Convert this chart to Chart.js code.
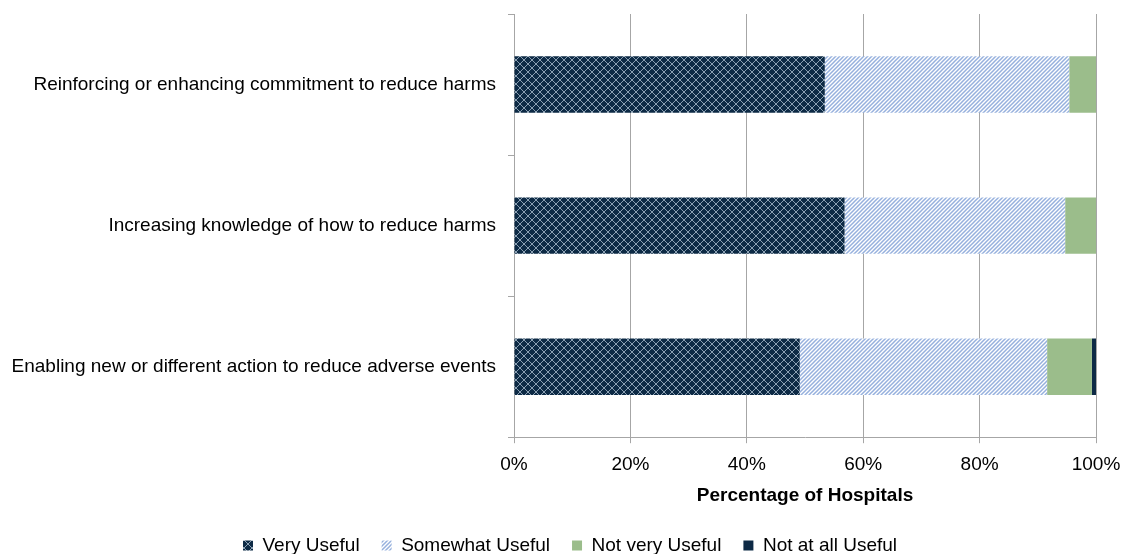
<!DOCTYPE html>
<html>
<head>
<meta charset="utf-8">
<script src="https://cdn.jsdelivr.net/npm/chart.js@4/dist/chart.umd.min.js"></script>
<style>
  html, body { margin: 0; padding: 0; background: #fff; }
  #wrap { width: 1125px; height: 554px; }
</style>
</head>
<body>
<div id="wrap"><canvas id="chart"></canvas></div>
<script>
const categories = [
  "Reinforcing or enhancing commitment to reduce harms",
  "Increasing knowledge of how to reduce harms",
  "Enabling new or different action to reduce adverse events"
];
const veryUseful = [53.4, 56.8, 49.1];
const somewhatUseful = [42.0, 37.9, 42.5];
const notVeryUseful = [4.6, 5.3, 7.7];
const notAtAllUseful = [0, 0, 0.7];
const xTicks = [0, 20, 40, 60, 80, 100];

function crossPattern() {
  const c = document.createElement("canvas");
  c.width = 8; c.height = 8;
  const g = c.getContext("2d");
  g.fillStyle = "#0d2a45";
  g.fillRect(0, 0, 8, 8);
  g.strokeStyle = "#8a9fb2";
  g.lineWidth = 1;
  g.beginPath();
  g.moveTo(0, 0); g.lineTo(8, 8);
  g.moveTo(8, 0); g.lineTo(0, 8);
  g.stroke();
  return g.createPattern(c, "repeat");
}

function diagPattern() {
  const c = document.createElement("canvas");
  c.width = 4; c.height = 4;
  const g = c.getContext("2d");
  g.fillStyle = "#ffffff";
  g.fillRect(0, 0, 4, 4);
  g.strokeStyle = "#96b0dd";
  g.lineWidth = 1.5;
  g.beginPath();
  g.moveTo(-1, 5); g.lineTo(5, -1);
  g.moveTo(-1, 1); g.lineTo(1, -1);
  g.moveTo(3, 5); g.lineTo(5, 3);
  g.stroke();
  return g.createPattern(c, "repeat");
}

const font = { family: "'Liberation Sans', Arial, sans-serif", size: 19 };

// pull the legend closer to the bottom edge and nudge it right
const legendShift = {
  id: "legendShift",
  beforeUpdate(chart) {
    const legend = chart.legend;
    if (legend && !legend._shifted) {
      const fit = legend.fit;
      legend.fit = function () {
        fit.call(this);
        this.height -= 11;
      };
      legend._shifted = true;
    }
  },
  afterLayout(chart) {
    if (chart.legend) {
      chart.legend.left += 44;
    }
  }
};

new Chart(document.getElementById("chart"), {
  type: "bar",
  data: {
    labels: categories,
    datasets: [
      { label: "Very Useful", data: veryUseful, backgroundColor: crossPattern() },
      { label: "Somewhat Useful", data: somewhatUseful, backgroundColor: diagPattern() },
      { label: "Not very Useful", data: notVeryUseful, backgroundColor: "#9bbd8b" },
      { label: "Not at all Useful", data: notAtAllUseful, backgroundColor: "#0d2a45" }
    ]
  },
  plugins: [legendShift],
  options: {
    indexAxis: "y",
    responsive: true,
    maintainAspectRatio: false,
    animation: false,
    categoryPercentage: 0.4,
    barPercentage: 1,
    layout: { padding: { top: 14, right: 29, left: 0, bottom: 0 } },
    plugins: {
      tooltip: { enabled: false },
      legend: {
        position: "bottom",
        labels: {
          color: "#000",
          font: font,
          boxWidth: 10,
          boxHeight: 10,
          padding: 22
        }
      }
    },
    scales: {
      x: {
        stacked: true,
        min: 0,
        max: 100,
        afterBuildTicks: (axis) => { axis.ticks = xTicks.map((v) => ({ value: v })); },
        afterFit: (axis) => { axis.paddingLeft = 0; axis.paddingRight = 0; },
        ticks: { color: "#000", font: font, padding: 10, callback: (v) => v + "%" },
        grid: { color: "#a6a6a6", tickLength: 6, lineWidth: 1 },
        border: { color: "#a6a6a6" },
        title: {
          display: true,
          text: "Percentage of Hospitals",
          color: "#000",
          font: { family: font.family, size: 19, weight: "bold", lineHeight: 1 },
          padding: { top: 0, bottom: 9 }
        }
      },
      y: {
        stacked: true,
        afterFit: (axis) => {
          axis.width = 514;
          axis.paddingTop = 0;
          axis.paddingBottom = 0;
        },
        ticks: { color: "#000", font: font, padding: 12 },
        grid: { drawOnChartArea: false, color: "#a6a6a6", tickLength: 6, offset: true },
        border: { color: "#a6a6a6" }
      }
    }
  }
});
</script>
</body>
</html>
